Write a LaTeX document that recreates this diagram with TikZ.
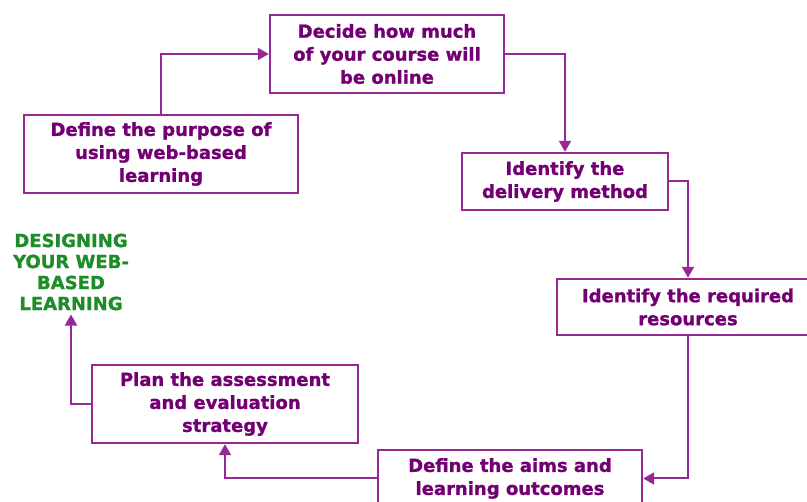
\documentclass[tikz,border=0pt]{standalone}
\usepackage{fontspec}
\setmainfont{DejaVu Sans}[BoldFeatures={FakeBold=1.2}]
\usepackage{tikz}
\usetikzlibrary{arrows.meta,positioning}
\definecolor{boxpurple}{RGB}{150,40,150}
\definecolor{textpurple}{RGB}{115,0,115}
\definecolor{titlegreen}{RGB}{30,140,40}
\tikzset{
  stepbox/.style = {rectangle, draw=boxpurple, line width=2.4pt, fill=white,
                    inner sep=0pt, align=center, text=textpurple,
                    font=\fontsize{18}{23}\selectfont\bfseries},
  flow/.style    = {draw=boxpurple, line width=2pt,
                    -{Triangle[length=11pt,width=12pt]}},
  title/.style   = {align=center, text=titlegreen, inner sep=0pt,
                    font=\fontsize{18}{21}\selectfont\bfseries},
}

\begin{document}
\begin{tikzpicture}[x=1pt,y=-1pt]
  \useasboundingbox (0,0) rectangle (807,502);
  % the six steps, clockwise from the left
  \node[stepbox,minimum width=274pt,minimum height=78pt] (purpose)   at (161,154)
       {Define the purpose of\\ using web-based\\ learning};
  \node[stepbox,minimum width=234pt,minimum height=78pt] (online)    at (387,54)
       {Decide how much\\ of your course will\\ be online};
  \node[stepbox,minimum width=206pt,minimum height=57pt] (delivery)  at (565,181.5)
       {Identify the\\ delivery method};
  \node[stepbox,minimum width=262pt,minimum height=56pt] (resources) at (688,307)
       {Identify the required\\ resources};
  \node[stepbox,minimum width=264pt,minimum height=57pt] (aims)      at (510,478.5)
       {Define the aims and\\ learning outcomes};
  \node[stepbox,minimum width=266pt,minimum height=78pt] (assess)    at (225,404)
       {Plan the assessment\\ and evaluation\\ strategy};
  \node[title] (designing) at (71,272)
       {DESIGNING\\ YOUR WEB-\\ BASED\\ LEARNING};

  \draw[flow] (purpose.north) |- (online.west);
  \draw[flow] (online.east) -| (delivery.north);
  \draw[flow] (delivery.east) -| (resources.north);
  \draw[flow] (resources.south) |- (aims.east);
  \draw[flow] (aims.west) -| (assess.south);
  \draw[flow] (assess.west) -| ([yshift=-4pt]designing.south);
\end{tikzpicture}
\end{document}
